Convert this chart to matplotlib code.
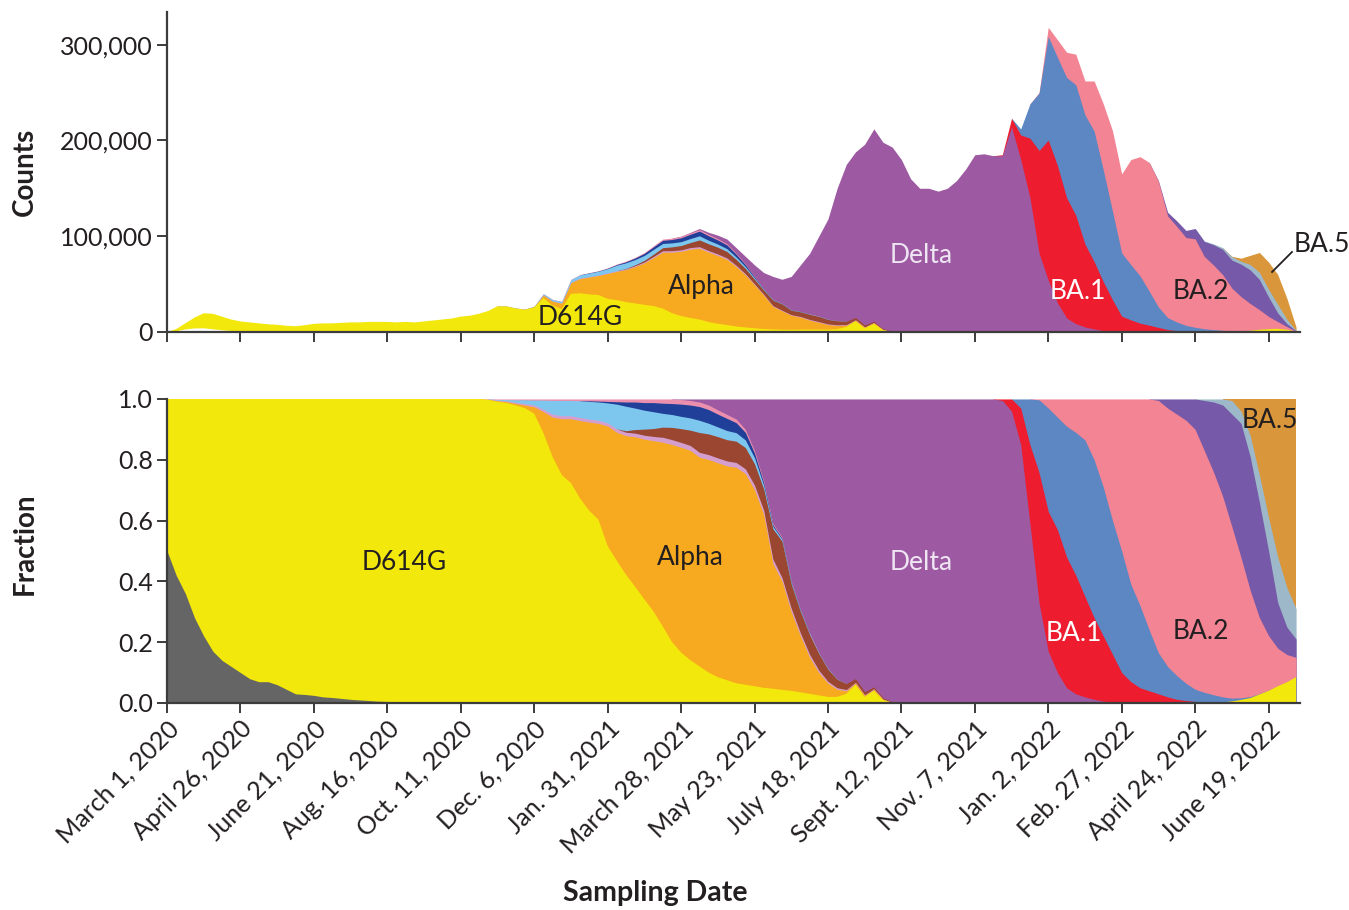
import matplotlib
matplotlib.use("Agg")
import matplotlib.pyplot as plt
import matplotlib.ticker as mticker
import numpy as np
import pandas as pd

plt.rcParams['font.family'] = ['Lato', 'DejaVu Sans']

N_WEEKS = 124
weeks = pd.date_range("2020-03-01", periods=N_WEEKS, freq="7D")


def weekly(start, values):
    # place a run of weekly values into the full 124-week series
    out = np.zeros(N_WEEKS)
    out[start:start + len(values)] = values
    return out


# total sequenced samples per week
total_counts = [
    0, 3000, 9000, 15000, 19500, 19000, 16000, 13000, 11000, 10000,
    9000, 8000, 7500, 6500, 6000, 7000, 8500, 9000, 9000, 9500,
    10000, 10000, 10500, 10500, 10500, 10000, 10500, 10000, 11000, 12000,
    13000, 14000, 16000, 17000, 19000, 22000, 27000, 27000, 25000, 24000,
    27000, 40000, 34000, 32000, 55000, 60000, 62000, 64000, 67000, 71000,
    74000, 78000, 83000, 90000, 97000, 98000, 100000, 104000, 108000, 104000,
    101000, 97000, 88000, 79000, 70000, 62000, 58000, 55000, 58000, 70000,
    82000, 100000, 118000, 150000, 175000, 188000, 196000, 212000, 198000, 193000,
    180000, 160000, 150000, 150000, 147000, 150000, 158000, 170000, 185000, 186000,
    184000, 185000, 223000, 212000, 238000, 250000, 318000, 305000, 292000, 290000,
    262000, 262000, 238000, 210000, 165000, 180000, 183000, 177000, 158000, 125000,
    116000, 106000, 108000, 95000, 92000, 88000, 79000, 77000, 80000, 83000,
    73000, 60000, 35000, 5000,
]

# weekly lineage fractions
ancestral = weekly(0, [
    0.50, 0.42, 0.36, 0.28, 0.22, 0.17, 0.14, 0.12, 0.10, 0.08,
    0.07, 0.07, 0.06, 0.045, 0.03, 0.028, 0.025, 0.02, 0.018, 0.015,
    0.012, 0.01, 0.008, 0.006, 0.005, 0.004, 0.003, 0.002, 0.001, 0.001])

d614g = weekly(0, [
    0.50, 0.58, 0.64, 0.72, 0.78, 0.83, 0.86, 0.88, 0.90, 0.92,
    0.93, 0.93, 0.94, 0.955, 0.97, 0.972, 0.975, 0.98, 0.982, 0.985,
    0.988, 0.99, 0.992, 0.994, 0.995, 0.996, 0.997, 0.998, 0.999, 0.999,
    1.0, 1.0, 1.0, 0.998, 0.995,
    0.99, 0.985, 0.98, 0.97, 0.96, 0.95,
    0.89, 0.81, 0.75, 0.72, 0.67, 0.63, 0.60, 0.51, 0.46, 0.42,
    0.38, 0.34, 0.30, 0.25, 0.20, 0.165, 0.14, 0.12, 0.10, 0.085,
    0.075, 0.065, 0.06, 0.055, 0.05, 0.047, 0.043, 0.04, 0.035, 0.03,
    0.025, 0.02, 0.02, 0.03, 0.06, 0.02, 0.04, 0.01, 0.0])
d614g += weekly(115, [0.002, 0.005, 0.01, 0.016, 0.028, 0.04, 0.055, 0.068, 0.085])

alpha = weekly(35, [
    0.002, 0.003, 0.004, 0.006, 0.01, 0.022,
    0.07, 0.13, 0.185, 0.21, 0.255, 0.29, 0.315, 0.39, 0.415,
    0.455, 0.49, 0.525, 0.56, 0.60, 0.645, 0.67, 0.685, 0.685, 0.70,
    0.705, 0.705, 0.71, 0.695, 0.645, 0.57, 0.413, 0.357, 0.26, 0.185,
    0.12, 0.075, 0.045, 0.025, 0.01, 0.005, 0.005, 0.005, 0.002, 0.002])

epsilon_lilac = weekly(35, [
    0.001, 0.002, 0.003, 0.004, 0.005,
    0.006, 0.008, 0.01, 0.01, 0.01, 0.01, 0.01, 0.01, 0.01,
    0.011, 0.011, 0.012, 0.013, 0.014, 0.016, 0.016, 0.016, 0.016, 0.016,
    0.016, 0.016, 0.016, 0.016, 0.016,
    0.015, 0.015, 0.015, 0.012, 0.012, 0.01, 0.01, 0.008, 0.006, 0.005,
    0.004, 0.003, 0.002, 0.002, 0.001, 0.0])

gamma = weekly(50, [
    0.005, 0.012, 0.02, 0.026, 0.033, 0.04, 0.045, 0.05, 0.065, 0.068,
    0.07, 0.07, 0.07, 0.07, 0.07, 0.07, 0.10, 0.12, 0.08, 0.07,
    0.065, 0.055, 0.04, 0.028, 0.02, 0.012, 0.01, 0.006, 0.004, 0.002])

light_blue = weekly(36, [
    0.002, 0.004, 0.008, 0.012, 0.016,
    0.03, 0.045, 0.05, 0.05, 0.055, 0.058, 0.06, 0.065, 0.08,
    0.08, 0.07, 0.062, 0.055, 0.045, 0.042, 0.04, 0.04, 0.04, 0.035,
    0.032, 0.03, 0.028, 0.025, 0.02, 0.012, 0.008, 0.006, 0.005, 0.004,
    0.003, 0.002, 0.002, 0.001])

dark_blue = weekly(46, [
    0.002, 0.003, 0.005, 0.008,
    0.014, 0.02, 0.025, 0.03, 0.033, 0.036, 0.04, 0.042, 0.045, 0.045,
    0.042, 0.04, 0.033, 0.025, 0.015, 0.008, 0.005, 0.003, 0.002, 0.001])

minor_other = weekly(36, [
    0.002, 0.002, 0.003, 0.003, 0.004, 0.004, 0.005, 0.005, 0.005,
    0.006, 0.006, 0.007, 0.008, 0.009, 0.01, 0.01, 0.012, 0.012,
    0.014, 0.015, 0.015, 0.015, 0.015, 0.015, 0.014, 0.013, 0.012,
    0.01, 0.008, 0.006, 0.005, 0.004, 0.003, 0.002, 0.001])

delta = weekly(56, [
    0.002, 0.005, 0.01, 0.02,
    0.036, 0.051, 0.066, 0.10, 0.17, 0.27, 0.41, 0.455, 0.60, 0.69,
    0.77, 0.835, 0.887, 0.921, 0.936, 0.92, 0.963, 0.947, 0.983, 0.996,
    1.0, 1.0, 1.0, 1.0, 1.0, 1.0, 1.0, 1.0, 1.0, 1.0, 1.0,
    0.995, 0.96, 0.85, 0.59, 0.33, 0.17, 0.10, 0.05, 0.03, 0.02,
    0.012, 0.006, 0.003, 0.001])

ba1 = weekly(91, [
    0.005, 0.04, 0.12, 0.26, 0.43, 0.46, 0.47, 0.43, 0.39,
    0.33, 0.268, 0.214, 0.157, 0.099, 0.07, 0.05, 0.04, 0.03, 0.02,
    0.012, 0.008, 0.005, 0.003, 0.002, 0.001, 0.001])

ba1_1 = weekly(93, [
    0.03, 0.15, 0.24, 0.34, 0.37, 0.43, 0.47,
    0.515, 0.52, 0.49, 0.44, 0.40, 0.32, 0.27, 0.20, 0.135, 0.10,
    0.078, 0.057, 0.04, 0.032, 0.025, 0.017, 0.01, 0.007, 0.005, 0.003,
    0.002, 0.001, 0.001])

ba2 = weekly(95, [
    0.003, 0.03, 0.06, 0.09, 0.11,
    0.135, 0.20, 0.29, 0.40, 0.50, 0.61, 0.68, 0.76, 0.83, 0.85,
    0.86, 0.865, 0.855, 0.795, 0.733, 0.66, 0.565, 0.46, 0.35, 0.25,
    0.18, 0.124, 0.09, 0.065])

ba2_12_1 = weekly(108, [
    0.005, 0.03, 0.05, 0.07, 0.10, 0.165, 0.23, 0.30,
    0.37, 0.44, 0.44, 0.38, 0.28, 0.15, 0.09, 0.06])

ba4 = weekly(113, [0.005, 0.01, 0.02, 0.045, 0.04, 0.07, 0.09, 0.11, 0.15, 0.13, 0.10])

ba5 = weekly(116, [0.005, 0.04, 0.12, 0.25, 0.39, 0.52, 0.62, 0.69])

layers = [ancestral, d614g, alpha, epsilon_lilac, gamma, light_blue, dark_blue,
          minor_other, delta, ba1, ba1_1, ba2, ba2_12_1, ba4, ba5]
colors = ['#646564', '#f3e80b', '#f7aa1f', '#d49fcf', '#9a4630', '#7dc7ef', '#1f3f98',
          '#ea8fae', '#9d5aa2', '#ed1c2e', '#5c87c3', '#f28493', '#7659a8', '#9cb8c9', '#da963a']
# ancestral counts are left blank in the counts panel
top_colors = ['#ffffff'] + colors[1:]

fractions = np.vstack(layers)
fractions = fractions / fractions.sum(axis=0)
counts = fractions * np.array(total_counts)


def stack_fill(ax, values, cols):
    # paint cumulative areas from the top layer down so no seams show between bands
    cum = np.cumsum(values, axis=0)
    for i in reversed(range(len(values))):
        on = values[i] > 0
        run = on.copy()
        run[1:] |= on[:-1]
        run[:-1] |= on[1:]
        ax.fill_between(weeks, 0, cum[i], where=run, color=cols[i], linewidth=0)


tick_dates = pd.date_range("2020-03-01", periods=16, freq="56D")
tick_labels = ["March 1, 2020", "April 26, 2020", "June 21, 2020", "Aug. 16, 2020",
               "Oct. 11, 2020", "Dec. 6, 2020", "Jan. 31, 2021", "March 28, 2021",
               "May 23, 2021", "July 18, 2021", "Sept. 12, 2021", "Nov. 7, 2021",
               "Jan. 2, 2022", "Feb. 27, 2022", "April 24, 2022", "June 19, 2022"]

ink = '#231f20'
axis_col = '#3c3c3c'

fig = plt.figure(figsize=(13.49, 9.10), dpi=100)
ax1 = fig.add_axes([0.1238, 0.6352, 0.8399, 0.3516])
ax2 = fig.add_axes([0.1238, 0.2275, 0.8399, 0.3341])

stack_fill(ax1, counts, top_colors)
stack_fill(ax2, fractions, colors)

x_end = weeks[0] + pd.Timedelta(days=864)
for ax in (ax1, ax2):
    ax.set_xlim(weeks[0], x_end)
    ax.spines['top'].set_visible(False)
    ax.spines['right'].set_visible(False)
    for s in ('left', 'bottom'):
        ax.spines[s].set_color(axis_col)
        ax.spines[s].set_linewidth(1.6)
    ax.tick_params(direction='out', length=7, width=1.4, color=axis_col,
                   labelsize=18, labelcolor=ink, pad=3)
    ax.set_xticks(tick_dates)

ax1.set_xticklabels([])
ax1.set_ylim(0, 334000)
ax1.set_yticks([0, 100000, 200000, 300000])
ax1.yaxis.set_major_formatter(mticker.FuncFormatter(lambda v, p: f"{int(v):,}"))

ax2.set_ylim(0, 1.0)
ax2.set_yticks([0, 0.2, 0.4, 0.6, 0.8, 1.0])
ax2.yaxis.set_major_formatter(mticker.FormatStrFormatter('%.1f'))
ax2.set_xticklabels(tick_labels, rotation=45, ha='right', va='top', rotation_mode='anchor')

fig.text(0.0185, 0.811, "Counts", rotation=90, ha='center', va='center',
         fontsize=20, fontweight='bold', color=ink)
fig.text(0.0185, 0.403, "Fraction", rotation=90, ha='center', va='center',
         fontsize=20, fontweight='bold', color=ink)
fig.text(0.4855, 0.0187, "Sampling Date", ha='center', va='center',
         fontsize=20.5, fontweight='bold', color=ink)

# lineage names on the counts panel
lab = dict(fontsize=19, ha='center', va='center', transform=ax1.transAxes)
ax1.text(0.3645, 0.044, "D614G", color=ink, **lab)
ax1.text(0.472, 0.141, "Alpha", color=ink, **lab)
ax1.text(0.666, 0.2375, "Delta", color='#efe6f3', **lab)
ax1.text(0.804, 0.125, "BA.1", color='white', **lab)
ax1.text(0.9126, 0.125, "BA.2", color=ink, **lab)
ax1.text(0.994, 0.272, "BA.5", color=ink, fontsize=19, ha='left', va='center',
         transform=ax1.transAxes, clip_on=False)
ax1.plot([0.9753, 0.9929], [0.1875, 0.25], color=ink, lw=1.3,
         transform=ax1.transAxes, clip_on=False)

# lineage names on the fraction panel
lab2 = dict(fontsize=19, ha='center', va='center', transform=ax2.transAxes)
ax2.text(0.209, 0.4605, "D614G", color=ink, **lab2)
ax2.text(0.4616, 0.480, "Alpha", color=ink, **lab2)
ax2.text(0.666, 0.4605, "Delta", color='#efe6f3', **lab2)
ax2.text(0.8005, 0.230, "BA.1", color='white', **lab2)
ax2.text(0.9126, 0.2336, "BA.2", color=ink, **lab2)
ax2.text(0.9735, 0.9276, "BA.5", color=ink, **lab2)

fig.savefig("out.png", dpi=100)
